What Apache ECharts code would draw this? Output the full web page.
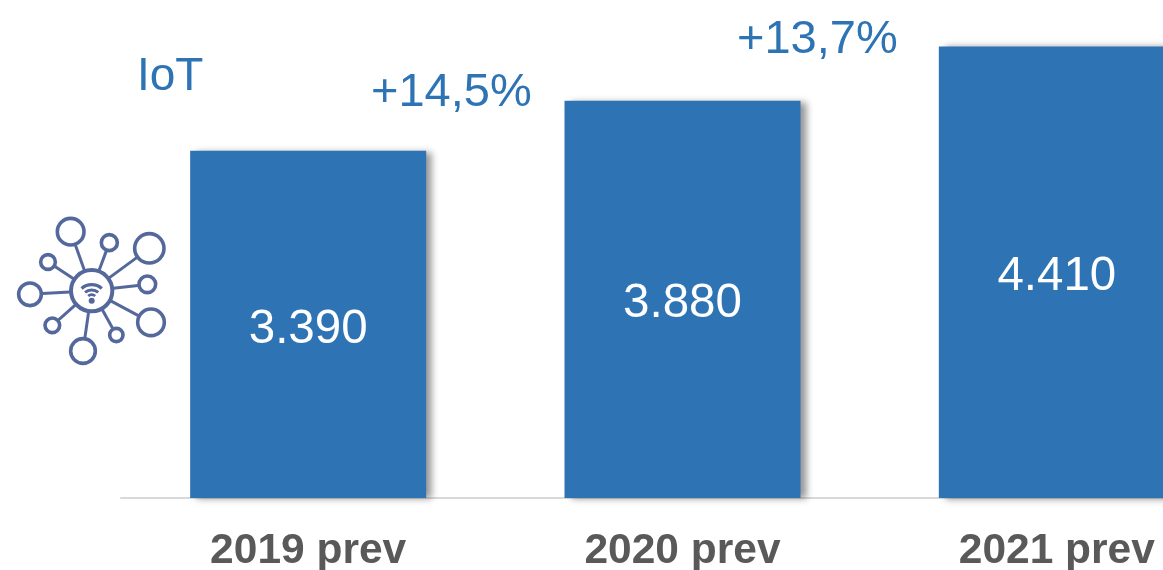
<!DOCTYPE html>
<html><head><meta charset="utf-8">
<style>html,body{margin:0;padding:0;background:#fff;overflow:hidden}#c{width:1163px;height:570px}</style>
<script src="https://cdn.jsdelivr.net/npm/echarts@6/dist/echarts.min.js"></script>
</head><body><div id="c"></div>
<script>
const categories = ['2019 prev','2020 prev','2021 prev'];
const values = [3390,3880,4410];
const valueLabels = ['3.390','3.880','4.410'];
const title = 'IoT';
const growth = ['+14,5%','+13,7%'];
const blue = '#2e74b5', iconC = '#54689b';
const nodes = [[212,95,43],[328,128,27],[448,145,47],[442,253,28],[453,367,43],[349,405,23],[249,453,40],[157,376,25],[90,283,37],[144,186,25]];
const cx=275, cy=272, cr=65;
const S = v => v/3;
const icon = [];
const st = {stroke:iconC, lineWidth:3.6, fill:'none'};
nodes.forEach(([x,y,r])=>{
  const d=Math.hypot(x-cx,y-cy), ux=(x-cx)/d, uy=(y-cy)/d;
  icon.push({type:'line',shape:{x1:S(cx+ux*cr),y1:S(cy+uy*cr),x2:S(x-ux*r),y2:S(y-uy*r)},style:{stroke:iconC,lineWidth:3}});
  icon.push({type:'circle',shape:{cx:S(x),cy:S(y),r:S(r)-1},style:st});
});
icon.push({type:'circle',shape:{cx:S(cx),cy:S(cy),r:S(cr)-1},style:{stroke:iconC,lineWidth:4,fill:'none'}});
[[46,3.2],[30,3],[16,2.8]].forEach(([r,w])=>{
  const a=0.72;
  icon.push({type:'arc',shape:{cx:S(cx),cy:S(cy+28),r:S(r),startAngle:-Math.PI/2-a,endAngle:-Math.PI/2+a},style:{stroke:iconC,lineWidth:w,fill:'none'}});
});
icon.push({type:'circle',shape:{cx:S(cx),cy:S(cy+30),r:3},style:{fill:iconC}});
const chart = echarts.init(document.getElementById('c'),null,{renderer:'canvas'});
chart.setOption({
  animation:false,
  grid:{left:121,top:-14,width:1123,height:512,containLabel:false,outerBoundsMode:'none'},
  xAxis:{type:'category',data:categories,axisTick:{show:false},
    axisLine:{lineStyle:{color:'#d9d9d9',width:2}},
    axisLabel:{color:'#595959',fontFamily:'"Liberation Sans", Arial, sans-serif',fontWeight:'bold',fontSize:42.5,margin:32,interval:0}},
  yAxis:{type:'value',min:0,max:5000,show:false,splitLine:{show:false}},
  series:[{type:'bar',data:values,barWidth:236,
    itemStyle:{color:blue,shadowColor:'rgba(0,0,0,0.42)',shadowBlur:7,shadowOffsetX:6,shadowOffsetY:1},
    label:{show:true,position:'inside',offset:[0,5],color:'#fff',fontFamily:'"Liberation Sans", Arial, sans-serif',fontSize:47.5,
      formatter:p=>valueLabels[p.dataIndex]}}],
  graphic:[
    {type:'text',left:137,top:54,style:{text:title,fill:blue,font:'46px "Liberation Sans", Arial, sans-serif'}},
    {type:'text',left:371,top:70,style:{text:growth[0],fill:blue,font:'47px "Liberation Sans", Arial, sans-serif'}},
    {type:'text',left:737,top:17,style:{text:growth[1],fill:blue,font:'47px "Liberation Sans", Arial, sans-serif'}},
    {type:'group',x:0,y:200,children:icon}
  ]
});
</script></body></html>
